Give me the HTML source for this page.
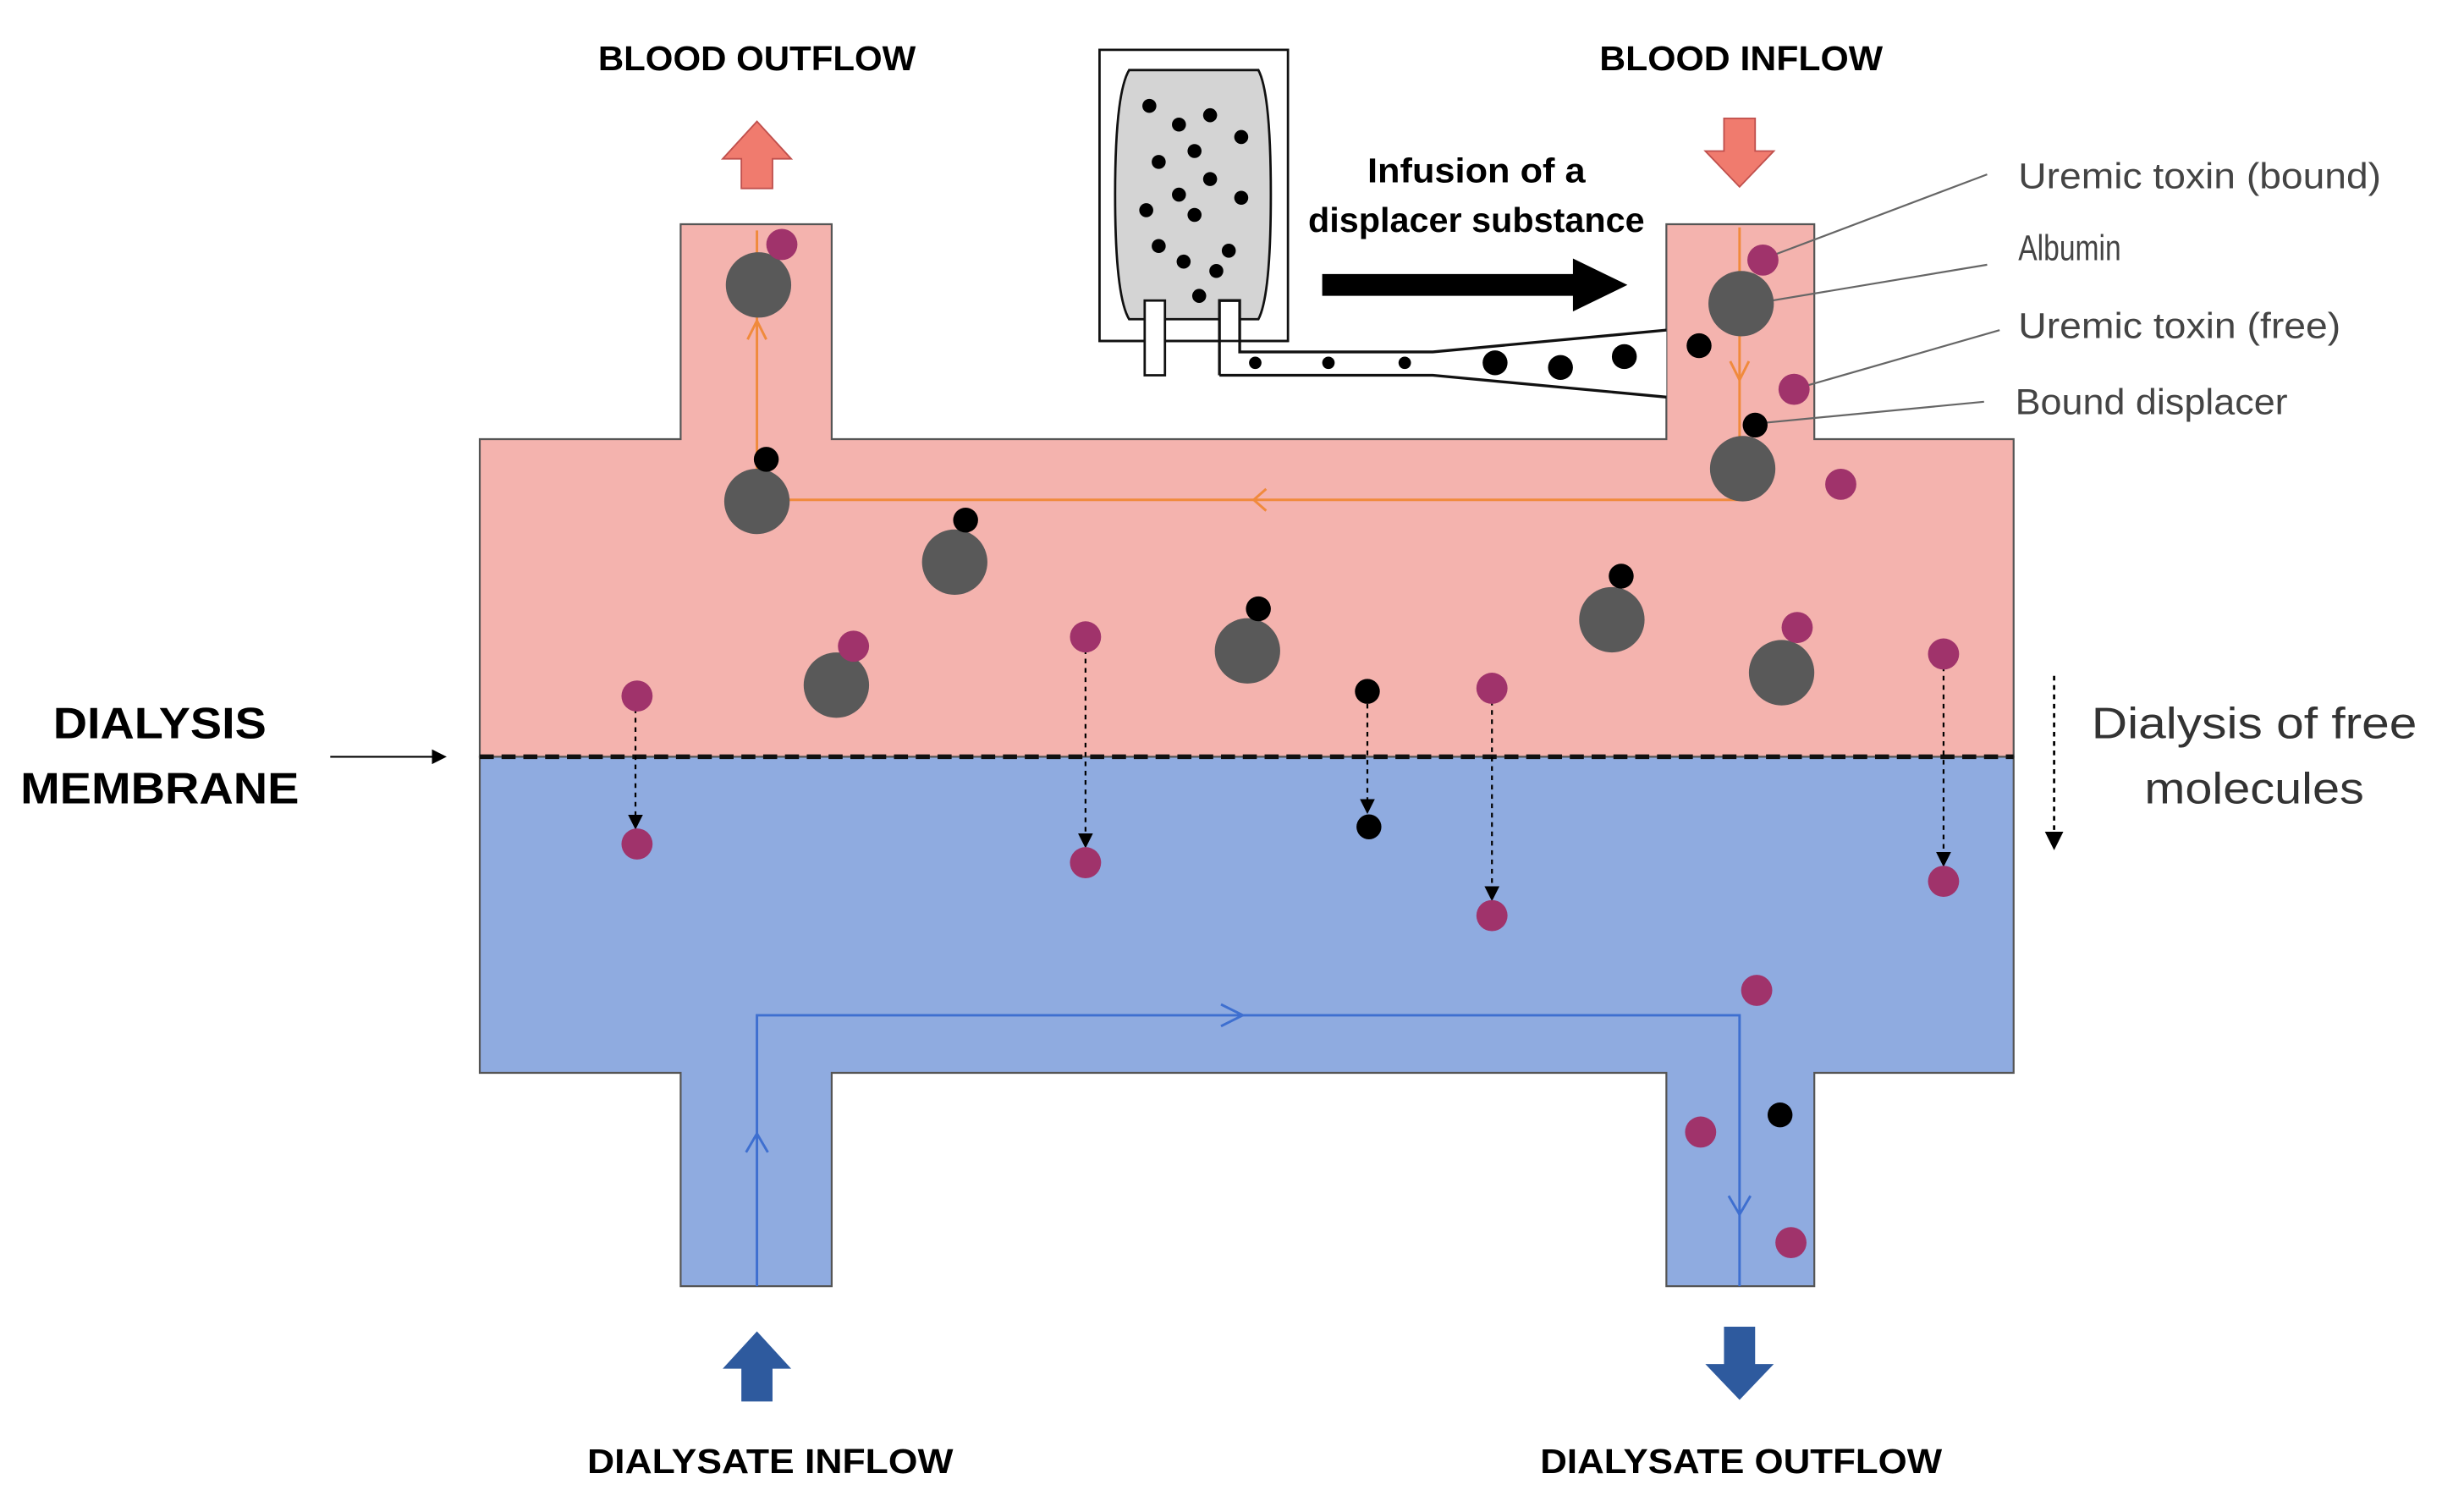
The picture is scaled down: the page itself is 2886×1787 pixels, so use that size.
<!DOCTYPE html>
<html><head><style>html,body{margin:0;padding:0;background:#fff}svg{display:block}</style></head>
<body>
<svg width="2886" height="1787" viewBox="0 0 1568 971" xmlns="http://www.w3.org/2000/svg" font-family="Liberation Sans, sans-serif">
<defs>
<marker id="ah" markerWidth="8" markerHeight="8" refX="4" refY="4" orient="auto"><path d="M0,0 L8,4 L0,8 z" fill="#000"/></marker>
</defs>
<path d="M437,144 H534 V282 H1070 V144 H1165 V282 H1293 V486 H308 V282 H437 Z" fill="#f4b3ae" stroke="#555" stroke-width="1.2"/>
<path d="M308,486 H1293 V689 H1165 V826 H1070 V689 H534 V826 H437 V689 H308 Z" fill="#8fabe0" stroke="#555" stroke-width="1.2"/>
<line x1="308" y1="486" x2="1293" y2="486" stroke="#111" stroke-width="3" stroke-dasharray="9,5"/>
<polyline points="1117,146 1117,321 486,321 486,148" fill="none" stroke="#f08a3c" stroke-width="1.6"/>
<polyline points="813,314 805,321 813,328" fill="none" stroke="#f08a3c" stroke-width="1.6"/>
<polyline points="1111,232 1117,244 1123,232" fill="none" stroke="#f08a3c" stroke-width="1.6"/>
<polyline points="480,218 486,206 492,218" fill="none" stroke="#f08a3c" stroke-width="1.6"/>
<polyline points="486,826 486,652 1117,652 1117,826" fill="none" stroke="#3e6fd0" stroke-width="1.6"/>
<polyline points="784,645 798,652 784,659" fill="none" stroke="#3e6fd0" stroke-width="1.6"/>
<polyline points="479,740 486,728 493,740" fill="none" stroke="#3e6fd0" stroke-width="1.6"/>
<polyline points="1110,768 1117,780 1124,768" fill="none" stroke="#3e6fd0" stroke-width="1.6"/>
<path d="M476,121 V102 H464 L486,78 L508,102 H496 V121 Z" fill="#f07b6e" stroke="#c0504d"/>
<path d="M1107,76 V97 H1095 L1117,120 L1139,97 H1127 V76 Z" fill="#f07b6e" stroke="#c0504d"/>
<path d="M476,900 V879 H464 L486,855 L508,879 H496 V900 Z" fill="#2e5a9e"/>
<path d="M1107,852 V876 H1095 L1117,899 L1139,876 H1127 V852 Z" fill="#2e5a9e"/>
<rect x="706" y="32" width="121" height="187" fill="#fff" stroke="#111" stroke-width="1.5"/>
<path d="M725,45 H808 Q816,60 816,125 Q816,190 808,205 H725 Q716,190 716,125 Q716,60 725,45 Z" fill="#d4d4d4" stroke="#111" stroke-width="1.5"/>
<g fill="#000">
<circle cx="738" cy="68" r="4.5"/><circle cx="757" cy="80" r="4.5"/><circle cx="777" cy="74" r="4.5"/><circle cx="797" cy="88" r="4.5"/>
<circle cx="767" cy="97" r="4.5"/><circle cx="744" cy="104" r="4.5"/><circle cx="777" cy="115" r="4.5"/><circle cx="797" cy="127" r="4.5"/>
<circle cx="757" cy="125" r="4.5"/><circle cx="736" cy="135" r="4.5"/><circle cx="767" cy="138" r="4.5"/><circle cx="744" cy="158" r="4.5"/>
<circle cx="789" cy="161" r="4.5"/><circle cx="760" cy="168" r="4.5"/><circle cx="781" cy="174" r="4.5"/><circle cx="770" cy="190" r="4.5"/>
</g>
<path d="M783,193 H796 V226 H920 L1070,212 V255 L920,241 H783 Z" fill="#fff" stroke="none"/>
<line x1="706" y1="219" x2="827" y2="219" stroke="#111" stroke-width="1.5"/>
<rect x="735" y="193" width="13" height="48" fill="#fff" stroke="#111" stroke-width="1.5"/>
<path d="M783,241 V193 H796 V226 H920 L1070,212 M1070,255 L920,241 H783" fill="none" stroke="#111" stroke-width="1.8"/>
<g fill="#000"><circle cx="806" cy="233" r="4"/><circle cx="853" cy="233" r="4"/><circle cx="902" cy="233" r="4"/>
<circle cx="960" cy="233" r="8"/><circle cx="1002" cy="236" r="8"/><circle cx="1043" cy="229" r="8"/><circle cx="1091" cy="222" r="8"/></g>
<path d="M849,176 H1010 V166 L1045,183 L1010,200 V190 H849 Z" fill="#000"/>
<g font-weight="bold" font-size="22" lengthAdjust="spacingAndGlyphs">
<text x="878" y="117" textLength="140" lengthAdjust="spacingAndGlyphs">Infusion of a</text>
<text x="840" y="149" textLength="216" lengthAdjust="spacingAndGlyphs">displacer substance</text>
<text x="384" y="45" textLength="204" lengthAdjust="spacingAndGlyphs">BLOOD OUTFLOW</text>
<text x="1027" y="45" textLength="182" lengthAdjust="spacingAndGlyphs">BLOOD INFLOW</text>
<text x="377" y="946" textLength="235" lengthAdjust="spacingAndGlyphs">DIALYSATE INFLOW</text>
<text x="989" y="946" textLength="258" lengthAdjust="spacingAndGlyphs">DIALYSATE OUTFLOW</text>
<text x="34" y="474" font-size="28" textLength="137" lengthAdjust="spacingAndGlyphs">DIALYSIS</text>
<text x="13" y="516" font-size="28" textLength="179" lengthAdjust="spacingAndGlyphs">MEMBRANE</text>
</g>
<line x1="212" y1="486" x2="282" y2="486" stroke="#000" stroke-width="1.2" marker-end="url(#ah)"/>
<text x="1343" y="474" font-size="28" fill="#333" textLength="209" lengthAdjust="spacingAndGlyphs">Dialysis of free</text>
<text x="1377" y="516" font-size="28" fill="#333" textLength="141" lengthAdjust="spacingAndGlyphs">molecules</text>
<line x1="1319" y1="434" x2="1319" y2="540" stroke="#000" stroke-width="1.5" stroke-dasharray="3,3" marker-end="url(#ah)"/>
<g font-size="23" fill="#444">
<text x="1296" y="121" textLength="233" lengthAdjust="spacingAndGlyphs">Uremic toxin (bound)</text>
<text x="1296" y="167" textLength="66" lengthAdjust="spacingAndGlyphs">Albumin</text>
<text x="1296" y="217" textLength="207" lengthAdjust="spacingAndGlyphs">Uremic toxin (free)</text>
<text x="1294" y="266" textLength="175" lengthAdjust="spacingAndGlyphs">Bound displacer</text>
</g>
<g stroke="#666" stroke-width="1.2">
<line x1="1133" y1="166" x2="1276" y2="112"/><line x1="1120" y1="196" x2="1276" y2="170"/>
<line x1="1152" y1="250" x2="1284" y2="212"/><line x1="1128" y1="272" x2="1274" y2="258"/>
</g>
<g stroke="#000" stroke-width="1.2" stroke-dasharray="3,3" marker-end="url(#ah)">
<line x1="408" y1="455" x2="408" y2="528"/><line x1="697" y1="417" x2="697" y2="540"/>
<line x1="878" y1="452" x2="878" y2="518"/><line x1="958" y1="450" x2="958" y2="574"/>
<line x1="1248" y1="428" x2="1248" y2="552"/>
</g>
<g fill="#595959">
<circle cx="487" cy="183" r="21"/><circle cx="486" cy="322" r="21"/><circle cx="613" cy="361" r="21"/><circle cx="537" cy="440" r="21"/>
<circle cx="801" cy="418" r="21"/><circle cx="1035" cy="398" r="21"/><circle cx="1144" cy="432" r="21"/><circle cx="1118" cy="195" r="21"/><circle cx="1119" cy="301" r="21"/>
</g>
<g fill="#a0336b">
<circle cx="502" cy="157" r="10"/><circle cx="548" cy="415" r="10"/><circle cx="409" cy="447" r="10"/><circle cx="697" cy="409" r="10"/>
<circle cx="958" cy="442" r="10"/><circle cx="1248" cy="420" r="10"/><circle cx="1154" cy="403" r="10"/><circle cx="1132" cy="167" r="10"/>
<circle cx="1152" cy="250" r="10"/><circle cx="1182" cy="311" r="10"/>
<circle cx="409" cy="542" r="10"/><circle cx="697" cy="554" r="10"/><circle cx="958" cy="588" r="10"/><circle cx="1248" cy="566" r="10"/>
<circle cx="1128" cy="636" r="10"/><circle cx="1092" cy="727" r="10"/><circle cx="1150" cy="798" r="10"/>
</g>
<g fill="#000">
<circle cx="492" cy="295" r="8"/><circle cx="620" cy="334" r="8"/><circle cx="808" cy="391" r="8"/><circle cx="1041" cy="370" r="8"/>
<circle cx="878" cy="444" r="8"/><circle cx="1127" cy="273" r="8"/><circle cx="879" cy="531" r="8"/><circle cx="1143" cy="716" r="8"/>
</g>
</svg>
</body></html>
